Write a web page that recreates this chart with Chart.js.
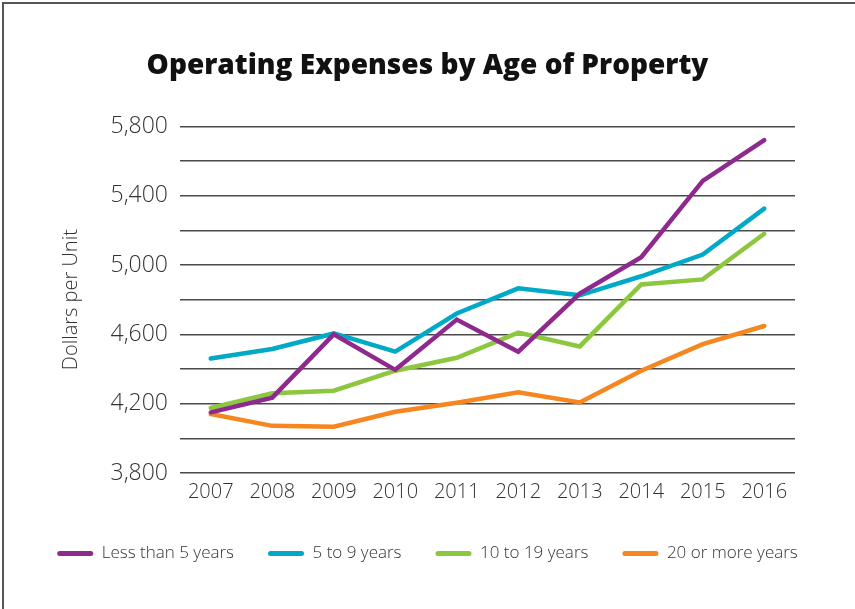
<!DOCTYPE html>
<html>
<head>
<meta charset="utf-8">
<script src="https://cdn.jsdelivr.net/npm/chart.js@4/dist/chart.umd.min.js"></script>
<style>
  html, body { margin: 0; padding: 0; background: #fff; }
  #wrap { width: 855px; height: 609px; position: relative; }
</style>
</head>
<body>
<div id="wrap"><canvas id="c" width="855" height="609"></canvas></div>
<script>
const years = ['2007','2008','2009','2010','2011','2012','2013','2014','2015','2016'];
const lessThan5 = [4150, 4235, 4600, 4395, 4685, 4500, 4835, 5045, 5485, 5720];
const fiveTo9 = [4460, 4515, 4605, 4500, 4720, 4865, 4825, 4935, 5060, 5325];
const tenTo19 = [4175, 4260, 4275, 4390, 4465, 4610, 4530, 4888, 4917, 5180];
const twentyPlus = [4140, 4072, 4067, 4153, 4205, 4265, 4207, 4390, 4543, 4648];
const seriesNames = ['Less than 5 years', '5 to 9 years', '10 to 19 years', '20 or more years'];
const seriesColors = ['#8e2a8e', '#00aac7', '#8dc63f', '#f6861f'];
const yMin = 3800, yMax = 5800, yStep = 200, yLabelStep = 400;

const FONT = '"Open Sans", Lato, sans-serif';

const frame = {
  id: 'frame',
  afterDraw(chart) {
    const ctx = chart.ctx;
    ctx.save();
    ctx.strokeStyle = '#555';
    ctx.lineWidth = 2;
    ctx.beginPath();
    ctx.moveTo(3, 609);
    ctx.lineTo(3, 3);
    ctx.lineTo(855, 3);
    ctx.stroke();
    ctx.restore();
  }
};

new Chart(document.getElementById('c'), {
  type: 'line',
  data: {
    labels: years,
    datasets: [lessThan5, fiveTo9, tenTo19, twentyPlus].map((d, i) => ({
      label: seriesNames[i],
      data: d,
      borderColor: seriesColors[i],
      backgroundColor: seriesColors[i],
      borderWidth: 4.5,
      pointRadius: 0,
      pointHoverRadius: 0,
      tension: 0,
      borderCapStyle: 'round',
      borderJoinStyle: 'miter',
      fill: false,
      yAxisID: 'y'
    }))
  },
  options: {
    responsive: false,
    animation: false,
    layout: { padding: { left: 0, right: 0, top: 0, bottom: 37 } },
    plugins: {
      title: {
        display: true,
        text: 'Operating Expenses by Age of Property',
        color: '#111',
        font: { family: FONT, size: 28, weight: '800', lineHeight: 1.2 },
        padding: { top: 49, bottom: 43.7 }
      },
      legend: {
        position: 'bottom',
        labels: {
          color: '#333',
          font: { family: FONT, size: 17, weight: '300' },
          boxWidth: 36,
          boxHeight: 5,
          padding: 34,
          useBorderRadius: true,
          borderRadius: 2.5,
          generateLabels(chart) {
            return chart.data.datasets.map((ds, i) => ({
              text: ds.label,
              fillStyle: ds.borderColor,
              strokeStyle: ds.borderColor,
              lineWidth: 0,
              hidden: !chart.isDatasetVisible(i),
              datasetIndex: i,
              borderRadius: 2.5,
              fontColor: '#333'
            }));
          }
        }
      },
      tooltip: { enabled: false }
    },
    scales: {
      x: {
        offset: true,
        grid: { display: false, drawTicks: false },
        border: { display: false },
        ticks: {
          color: '#333',
          font: { family: FONT, size: 20, weight: '300' },
          padding: 7,
          maxRotation: 0,
          autoSkip: false
        },
        afterFit(scale) { scale.height = 38; }
      },
      y: {
        min: yMin,
        max: yMax,
        grid: { color: '#4a4a4a', lineWidth: 1.4, drawTicks: false },
        border: { display: false },
        ticks: {
          stepSize: yStep,
          color: '#333',
          font: { family: FONT, size: 23, weight: '300' },
          padding: 12,
          callback(v) {
            return ((v - yMin) % yLabelStep === 0) ? v.toLocaleString('en-US') : '';
          }
        },
        title: {
          display: true,
          text: 'Dollars per Unit',
          color: '#333',
          font: { family: FONT, size: 20, weight: '300', lineHeight: 1.2 },
          padding: { top: 59, bottom: 0 }
        },
        afterFit(scale) { scale.width = 180; }
      },
      yR: {
        position: 'right',
        display: true,
        min: yMin,
        max: yMax,
        grid: { display: false, drawTicks: false },
        border: { display: false },
        ticks: { display: false },
        afterFit(scale) { scale.width = 60; }
      }
    }
  },
  plugins: [frame]
});
</script>
</body>
</html>
